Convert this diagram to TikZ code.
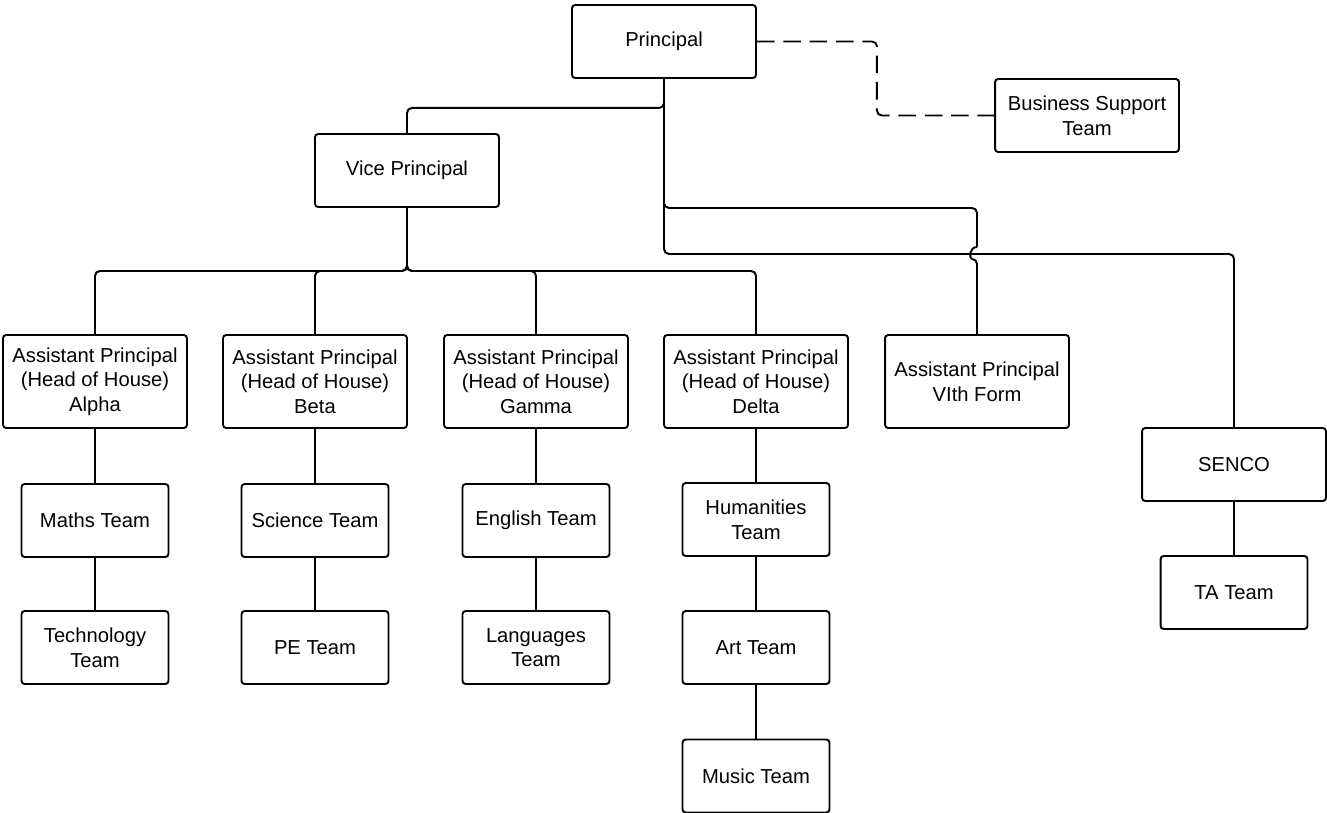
\documentclass[tikz,border=0pt]{standalone}
\usepackage{fontspec}
\setmainfont{Liberation Sans}
\usepackage{tikz}
\usetikzlibrary{arrows.meta}
\tikzset{
  box/.style={draw, line width=1.1pt, rounded corners=1.8pt, align=center,
    font=\fontsize{11.5}{14}\selectfont, inner sep=0pt},
  bigbox/.style={box, minimum width=3.68cm, minimum height=1.46cm},
  apbox/.style={box, minimum width=3.68cm, minimum height=1.86cm},
  teambox/.style={box, minimum width=2.94cm, minimum height=1.46cm},
  link/.style={line width=1.1pt, rounded corners=2.8pt},
  dashlink/.style={link, dash pattern=on 10pt off 5pt}
}

\begin{document}
\begin{tikzpicture}[x=0.02cm, y=-0.02cm]
\useasboundingbox (0,0) rectangle (1327,812);
% top level
\node[bigbox] (principal) at (664,41.5) {Principal};
\node[bigbox] (busteam) at (1087,115.5) {Business Support\\Team};
\node[bigbox] (vicep) at (407,170.5) {Vice Principal};
% assistant principals
\node[apbox] (apalpha) at (95,381.5) {Assistant Principal\\(Head of House)\\Alpha};
\node[apbox] (apbeta) at (315,381.5) {Assistant Principal\\(Head of House)\\Beta};
\node[apbox] (apgamma) at (536,381.5) {Assistant Principal\\(Head of House)\\Gamma};
\node[apbox] (apdelta) at (756,381.5) {Assistant Principal\\(Head of House)\\Delta};
\node[apbox] (apsixth) at (977,381.5) {Assistant Principal\\VIth Form};
\node[bigbox] (senco) at (1234,464.5) {SENCO};
% teams
\node[teambox] (maths) at (95,520.5) {Maths Team};
\node[teambox] (science) at (315,520.5) {Science Team};
\node[teambox] (english) at (536,520.5) {English Team};
\node[teambox] (humanities) at (756,519.5) {Humanities\\Team};
\node[teambox] (technology) at (95,647.5) {Technology\\Team};
\node[teambox] (pe) at (315,647.5) {PE Team};
\node[teambox] (languages) at (536,647.5) {Languages\\Team};
\node[teambox] (art) at (756,647.5) {Art Team};
\node[teambox] (music) at (756,776) {Music Team};
\node[teambox] (ta) at (1234,592.5) {TA Team};
% hop where the lines cross
\coordinate (hoptop) at (977,247);
\coordinate (hopbot) at (977,259);

\draw[link] (principal.south) -- ++(0,29) -| (vicep.north);
\draw[link] (principal.south) -- ++(0,129) -| (hoptop);
\draw[link] (hoptop) .. controls +(-8,0) and +(-8,0) .. (hopbot) -- (apsixth.north);
\draw[link] (principal.south) -- ++(0,175) -| (senco.north);
\draw[dashlink] (principal.east) -- ++(120,0) |- (busteam.west);

\draw[link] (vicep.south) -- ++(0,63) -| (apalpha.north);
\draw[link] (vicep.south) -- ++(0,63) -| (apbeta.north);
\draw[link] (vicep.south) -- ++(0,63) -| (apgamma.north);
\draw[link] (vicep.south) -- ++(0,63) -| (apdelta.north);

\draw[link] (apalpha.south) -- (maths.north);
\draw[link] (maths.south) -- (technology.north);
\draw[link] (apbeta.south) -- (science.north);
\draw[link] (science.south) -- (pe.north);
\draw[link] (apgamma.south) -- (english.north);
\draw[link] (english.south) -- (languages.north);
\draw[link] (apdelta.south) -- (humanities.north);
\draw[link] (humanities.south) -- (art.north);
\draw[link] (art.south) -- (music.north);
\draw[link] (senco.south) -- (ta.north);
\end{tikzpicture}
\end{document}
